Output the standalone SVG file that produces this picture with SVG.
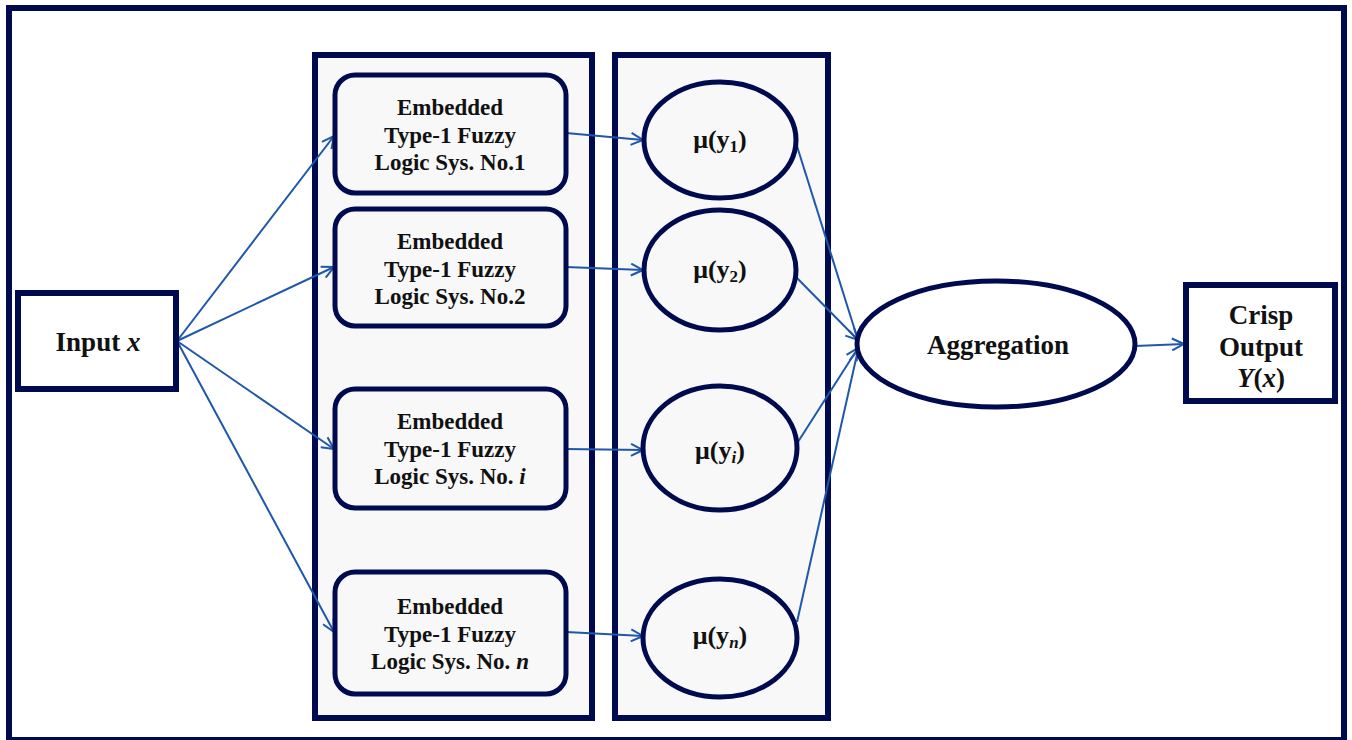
<svg xmlns="http://www.w3.org/2000/svg" width="1352" height="740" viewBox="0 0 1352 740">
  <defs>
    <marker id="arrow" viewBox="0 0 14 14" refX="13" refY="7" markerWidth="14" markerHeight="14" markerUnits="userSpaceOnUse" orient="auto">
      <path d="M1,1 L13,7 L1,13" fill="none" stroke="#1f57aa" stroke-width="2"/>
    </marker>
  </defs>
  <style>
    .frame { fill: #ffffff; stroke: #000a4f; stroke-width: 6; }
    .panel { fill: #f8f8f8; stroke: #000a4f; stroke-width: 6; }
    .box { fill: #ffffff; stroke: #000a4f; stroke-width: 6; }
    .rbox { fill: #f8f8f8; stroke: #000a4f; stroke-width: 5; }
    .ell { fill: #f8f8f8; stroke: #000a4f; stroke-width: 5; }
    .ellw { fill: #ffffff; stroke: #000a4f; stroke-width: 5; }
    .edge { fill: none; stroke: #1f57aa; stroke-width: 2; marker-end: url(#arrow); }
    text { font-family: "Liberation Serif", "Times New Roman", serif; font-weight: bold; fill: #111111; text-anchor: middle; }
    .t-fls { font-size: 23px; }
    .t-mu { font-size: 26px; }
    .t-big { font-size: 27px; }
    .it { font-style: italic; }
  </style>

  <!-- outer frame -->
  <rect class="frame" x="9" y="8" width="1335" height="732"/>

  <!-- column panels -->
  <rect class="panel" x="315" y="55" width="277" height="663"/>
  <rect class="panel" x="615" y="55" width="213" height="663"/>

  <!-- connectors -->
  <g id="connectors">
    <line class="edge" x1="177" y1="341" x2="334" y2="136"/>
    <line class="edge" x1="177" y1="341" x2="334" y2="267"/>
    <line class="edge" x1="177" y1="341" x2="334" y2="449"/>
    <line class="edge" x1="177" y1="341" x2="334" y2="632"/>

    <line class="edge" x1="566" y1="133" x2="643" y2="140"/>
    <line class="edge" x1="566" y1="267" x2="643" y2="270"/>
    <line class="edge" x1="566" y1="449" x2="643" y2="450"/>
    <line class="edge" x1="566" y1="632" x2="643" y2="636"/>

    <line class="edge" x1="796" y1="143" x2="858" y2="340"/>
    <line class="edge" x1="796" y1="277" x2="858" y2="340"/>
    <line class="edge" x1="796" y1="445" x2="858" y2="348"/>
    <line class="edge" x1="797" y1="622" x2="858" y2="350"/>

    <line class="edge" x1="1135" y1="346" x2="1184" y2="344"/>
  </g>

  <!-- input -->
  <g id="input">
    <rect class="box" x="18" y="293" width="158" height="96"/>
    <text class="t-big" x="98" y="351">Input <tspan class="it">x</tspan></text>
  </g>

  <!-- embedded type-1 fuzzy logic systems -->
  <g id="fls1">
    <rect class="rbox" x="335" y="75" width="231" height="118" rx="20"/>
    <text class="t-fls" x="450" y="115">Embedded</text>
    <text class="t-fls" x="450" y="143">Type-1 Fuzzy</text>
    <text class="t-fls" x="450" y="170">Logic Sys. No.1</text>
  </g>
  <g id="fls2">
    <rect class="rbox" x="335" y="209" width="231" height="117" rx="20"/>
    <text class="t-fls" x="450" y="249">Embedded</text>
    <text class="t-fls" x="450" y="277">Type-1 Fuzzy</text>
    <text class="t-fls" x="450" y="304">Logic Sys. No.2</text>
  </g>
  <g id="fls-i">
    <rect class="rbox" x="335" y="389" width="231" height="119" rx="20"/>
    <text class="t-fls" x="450" y="429">Embedded</text>
    <text class="t-fls" x="450" y="457">Type-1 Fuzzy</text>
    <text class="t-fls" x="450" y="484">Logic Sys. No. <tspan class="it">i</tspan></text>
  </g>
  <g id="fls-n">
    <rect class="rbox" x="335" y="572" width="231" height="122" rx="20"/>
    <text class="t-fls" x="450" y="614">Embedded</text>
    <text class="t-fls" x="450" y="642">Type-1 Fuzzy</text>
    <text class="t-fls" x="450" y="669">Logic Sys. No. <tspan class="it">n</tspan></text>
  </g>

  <!-- membership outputs -->
  <g id="mu1">
    <ellipse class="ell" cx="720" cy="140" rx="76" ry="58"/>
    <text class="t-mu" x="720" y="148">μ(y<tspan font-size="17" dy="4">1</tspan><tspan dy="-4">)</tspan></text>
  </g>
  <g id="mu2">
    <ellipse class="ell" cx="720" cy="270" rx="76" ry="60"/>
    <text class="t-mu" x="720" y="278">μ(y<tspan font-size="17" dy="4">2</tspan><tspan dy="-4">)</tspan></text>
  </g>
  <g id="mu-i">
    <ellipse class="ell" cx="720" cy="448" rx="77" ry="62"/>
    <text class="t-mu" x="720" y="459">μ(y<tspan class="it" font-size="17" dy="4">i</tspan><tspan dy="-4">)</tspan></text>
  </g>
  <g id="mu-n">
    <ellipse class="ell" cx="720" cy="638" rx="77" ry="59"/>
    <text class="t-mu" x="720" y="644">μ(y<tspan class="it" font-size="17" dy="4">n</tspan><tspan dy="-4">)</tspan></text>
  </g>

  <!-- aggregation -->
  <g id="aggregation">
    <ellipse class="ellw" cx="996" cy="344" rx="139" ry="63"/>
    <text class="t-big" x="998" y="354">Aggregation</text>
  </g>

  <!-- crisp output -->
  <g id="crisp-output">
    <rect class="box" x="1186" y="285" width="149" height="116"/>
    <text class="t-big" x="1261" y="324">Crisp</text>
    <text class="t-big" x="1261" y="356">Output</text>
    <text class="t-big" x="1261" y="387"><tspan class="it">Y</tspan>(<tspan class="it">x</tspan>)</text>
  </g>
</svg>
